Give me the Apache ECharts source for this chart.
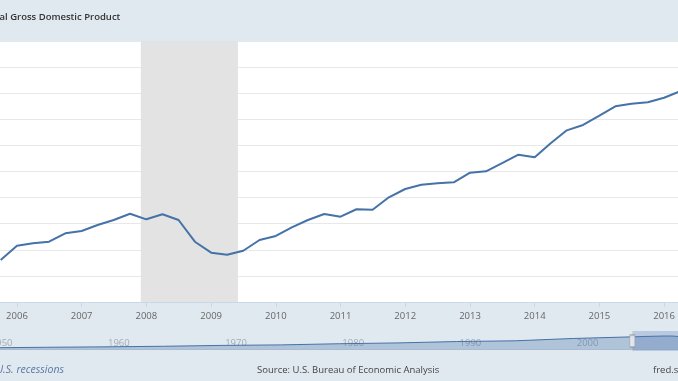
<!DOCTYPE html>
<html><head><meta charset="utf-8">
<script src="https://cdn.jsdelivr.net/npm/echarts@6/dist/echarts.min.js"></script>
<style>html,body{margin:0;padding:0;background:#e1e9f0}#c{width:678px;height:381px}</style>
</head><body><div id="c"></div>
<script>
// Quarterly real GDP (billions of chained dollars)
const quarters = ['2005-10-01',
  '2006-01-01','2006-04-01','2006-07-01','2006-10-01',
  '2007-01-01','2007-04-01','2007-07-01','2007-10-01',
  '2008-01-01','2008-04-01','2008-07-01','2008-10-01',
  '2009-01-01','2009-04-01','2009-07-01','2009-10-01',
  '2010-01-01','2010-04-01','2010-07-01','2010-10-01',
  '2011-01-01','2011-04-01','2011-07-01','2011-10-01',
  '2012-01-01','2012-04-01','2012-07-01','2012-10-01',
  '2013-01-01','2013-04-01','2013-07-01','2013-10-01',
  '2014-01-01','2014-04-01','2014-07-01','2014-10-01',
  '2015-01-01','2015-04-01','2015-07-01','2015-10-01',
  '2016-01-01','2016-04-01'];
const gdp = [15044,
  15263, 15300, 15324, 15453,
  15488, 15580, 15657, 15753,
  15667, 15744, 15657, 15324,
  15156, 15125, 15186, 15350,
  15412, 15545, 15657, 15749,
  15707, 15821, 15815, 16005,
  16132, 16198, 16219, 16235,
  16382, 16403, 16530, 16658,
  16618, 16832, 17031, 17113,
  17255, 17399, 17439, 17461,
  17531, 17630];
// Long history shown in the navigator strip (estimated from its outline)
const histDates = ['1947-01-01','1950-01-01','1955-01-01','1960-01-01','1965-01-01','1970-01-01',
  '1975-01-01','1980-01-01','1985-01-01','1990-01-01','1995-01-01','2000-01-01','2005-01-01'];
const histValues = [2033, 2185, 2780, 3275, 3950, 4940, 5520, 6840, 7800, 9380, 10230, 12920, 14770];
// Recession band
const recessions = [['2007-12-01', '2009-06-01']];
// Visible window and navigator range
const viewStart = '2005-01-01', viewEnd = '2016-04-01', navStart = '1947-01-01';
// Tick labels
const yearLabels = ['2005','2006','2007','2008','2009','2010','2011','2012','2013','2014','2015','2016'];
const navYearLabels = ['1950','1960','1970','1980','1990','2000','2010'];
const yMin = 14400, yMax = 18400, yStep = 400;
const navYMin = -1500, navYMax = 21500;

const P = s => { const p = s.split('-').map(Number); return Date.UTC(p[0], (p[1] || 1) - 1, p[2] || 1); };
const yearOf = v => String(new Date(v).getUTCFullYear());
const yearTicks = yearLabels.map(y => P(y));
const navTicks = navYearLabels.map(y => P(y));
const mainData = quarters.map((q, i) => [P(q), gdp[i]]);
const navData = histDates.map((d, i) => [P(d), histValues[i]]).concat(mainData);

const chart = echarts.init(document.getElementById('c'), null, {renderer: 'canvas'});
const font = 'Open Sans';
chart.setOption({
  backgroundColor: '#e1e9f0',
  animation: false,
  textStyle: {fontFamily: font},
  title: [
    {text: 'Real Gross Domestic Product', left: -12, top: 12.5, padding: 0,
      textStyle: {fontSize: 9.5, fontWeight: 600, color: '#333333', fontFamily: font}},
    {text: 'U.S. recessions', left: -4, top: 365, padding: 0,
      textStyle: {fontSize: 10.5, fontStyle: 'italic', fontWeight: 'normal', color: '#5a78a6', fontFamily: font}},
    {text: 'Source: U.S. Bureau of Economic Analysis', left: 257, top: 365.5, padding: 0,
      textStyle: {fontSize: 9.5, fontWeight: 'normal', color: '#444444', fontFamily: font}},
    {text: 'fred.stlouisfed.org', left: 653, top: 365.5, padding: 0,
      textStyle: {fontSize: 9.5, fontWeight: 'normal', color: '#444444', fontFamily: font}}
  ],
  grid: [
    {left: -47.7, right: -2.2, top: 41, height: 261, outerBoundsMode: 'none', containLabel: false,
      show: true, backgroundColor: '#ffffff', borderWidth: 0},
    {left: -47.4, width: 811.6, top: 331, height: 20, outerBoundsMode: 'none', containLabel: false}
  ],
  xAxis: [
    {type: 'value', gridIndex: 0, min: P(viewStart), max: P(viewEnd),
      axisLine: {show: true, lineStyle: {color: '#ccd6eb'}},
      axisTick: {show: true, length: 5, customValues: yearTicks, lineStyle: {color: '#ccd6eb'}},
      axisLabel: {customValues: yearTicks, formatter: yearOf,
        color: '#666666', fontSize: 9.5, margin: 9, fontFamily: font},
      splitLine: {show: false}},
    {type: 'value', gridIndex: 1, min: P(navStart), max: P(viewEnd), position: 'top',
      axisLine: {show: true, lineStyle: {color: '#c9d3df'}},
      axisTick: {show: false},
      axisLabel: {inside: true, customValues: navTicks, formatter: yearOf,
        align: 'left', padding: [0, 0, 0, 3], color: '#a3abb6', fontSize: 9.5, margin: 7, fontFamily: font},
      splitLine: {show: false}}
  ],
  yAxis: [
    {type: 'value', gridIndex: 0, min: yMin, max: yMax, interval: yStep,
      axisLabel: {show: false}, axisLine: {show: false}, axisTick: {show: false},
      splitLine: {lineStyle: {color: '#e8e8e8', width: 1}}},
    {type: 'value', gridIndex: 1, min: navYMin, max: navYMax, show: false, splitLine: {show: false}}
  ],
  series: [
    {name: 'GDP', type: 'line', xAxisIndex: 0, yAxisIndex: 0, data: mainData,
      symbol: 'none', lineStyle: {color: '#4572a7', width: 2}, z: 3,
      markArea: {silent: true, itemStyle: {color: '#e3e3e3'},
        data: recessions.map(r => [{xAxis: P(r[0])}, {xAxis: P(r[1])}])}},
    {name: 'nav', type: 'line', xAxisIndex: 1, yAxisIndex: 1, data: navData,
      symbol: 'none', lineStyle: {color: '#4572a7', width: 1},
      areaStyle: {color: 'rgba(69,114,167,0.45)'},
      markArea: {silent: true, itemStyle: {color: 'rgba(102,133,194,0.32)'},
        data: [[{xAxis: P(viewStart)}, {xAxis: P(viewEnd)}]]}},
    {name: 'handle', type: 'scatter', xAxisIndex: 1, yAxisIndex: 1,
      data: [[P(viewStart), (navYMin + navYMax) / 2]],
      symbol: 'rect', symbolSize: [5, 12], z: 5, silent: true,
      itemStyle: {color: '#f2f2f2', borderColor: '#999999', borderWidth: 1}}
  ]
});
</script></body></html>
